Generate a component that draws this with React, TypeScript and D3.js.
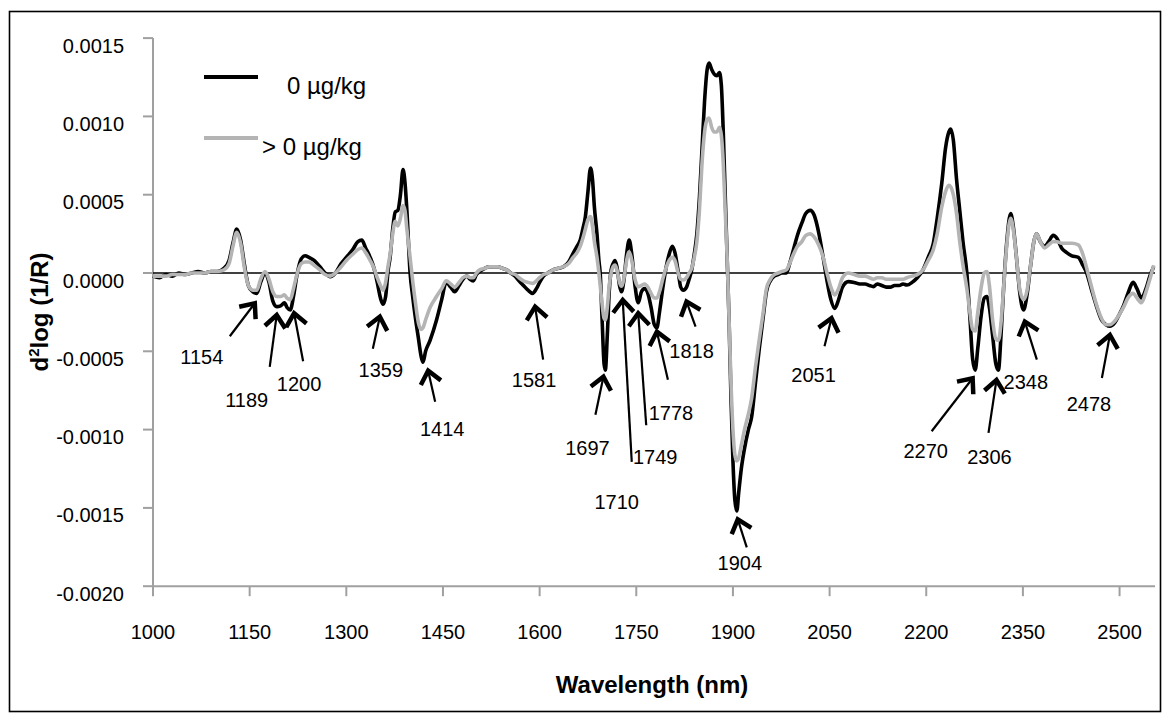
import React from 'react';
import * as d3 from 'd3';

const width = 1170;
const height = 722;
const plot = { left: 153, right: 1155, top: 38.1, bottom: 586.2 };
const font = '"Liberation Sans", Arial, sans-serif';

// wavelength (nm)
const wavelengths = [
  1000, 1010, 1020, 1030, 1040, 1050, 1060, 1070, 1080, 1090,
  1100, 1110, 1118, 1124, 1130, 1136, 1142, 1148, 1155, 1161,
  1167, 1174, 1180, 1186, 1192, 1198, 1204, 1208, 1213, 1218,
  1224, 1230, 1236, 1242, 1250, 1259, 1267, 1275, 1283, 1292,
  1300, 1310, 1318, 1324, 1330, 1337, 1343, 1348, 1353, 1357,
  1361, 1365, 1368, 1372, 1376, 1380, 1384, 1388, 1391, 1394,
  1399, 1403, 1407, 1412, 1416, 1419, 1423, 1430, 1440, 1448,
  1455, 1462, 1468, 1475, 1481, 1487, 1492, 1497, 1502, 1507,
  1515, 1522, 1528, 1535, 1542, 1549, 1555, 1562, 1568, 1575,
  1582, 1589, 1595, 1600, 1606, 1613, 1621, 1629, 1637, 1645,
  1652, 1658, 1663, 1667, 1671, 1675, 1679, 1682, 1685, 1689,
  1692, 1694, 1697, 1700, 1702, 1705, 1708, 1711, 1714, 1717,
  1720, 1724, 1727, 1731, 1735, 1739, 1743, 1748, 1753, 1758,
  1763, 1768, 1773, 1778, 1782, 1786, 1791, 1796, 1801, 1806,
  1810, 1815, 1819, 1823, 1828, 1832, 1836, 1840, 1844, 1848,
  1852, 1856, 1860, 1863, 1867, 1871, 1875, 1879, 1882, 1885,
  1888, 1891, 1894, 1897, 1900, 1903, 1906, 1909, 1913, 1918,
  1924, 1929, 1935, 1941, 1947, 1952, 1958, 1964, 1970, 1976,
  1983, 1988, 1994, 2000, 2007, 2013, 2020, 2026, 2033, 2040,
  2046, 2052, 2058, 2064, 2070, 2079, 2088, 2097, 2105, 2112,
  2118, 2124, 2131, 2138, 2144, 2151, 2158, 2164, 2170, 2178,
  2186, 2195, 2203, 2211, 2217, 2224, 2230, 2235, 2238, 2242,
  2247, 2252, 2257, 2263, 2268, 2272, 2276, 2280, 2285, 2290,
  2294, 2298, 2303, 2308, 2312, 2316, 2320, 2325, 2331, 2335,
  2340, 2345, 2351, 2356, 2362, 2367, 2371, 2377, 2384, 2390,
  2397, 2403, 2410, 2418, 2426, 2436, 2443, 2449, 2456, 2464,
  2472, 2479, 2485, 2492, 2499, 2506, 2513, 2521, 2527, 2534,
  2541, 2547, 2553,
];

// 0 µg/kg (black)
const clean = [
  -0.00002, -0.00003, -0.00001, -0.00002, 0, -0.00001, 0, 0.00001, 0, 0.00001,
  0.00001, 0.00003, 0.00008, 0.00019, 0.00028, 0.00021, 0.00005, -0.00008, -0.00012, -0.00013,
  -0.00006, 0, -0.00006, -0.00018, -0.000215, -0.00021, -0.00019, -0.00022, -0.000236, -0.00015,
  0, 0.00009, 0.00011, 0.0001, 0.00008, 0.00004, 0, -0.000024, 0, 0.00006,
  0.0001, 0.00015, 0.0002, 0.00021, 0.00016, 0.0001, 0.00003, -0.00006, -0.00016, -0.0002,
  -0.00015, 0.00002, 0.0001, 0.00028, 0.00039, 0.0004, 0.0005, 0.00066, 0.00058, 0.0004,
  0, -0.00015, -0.00028, -0.00042, -0.00053, -0.00057, -0.0005, -0.00043, -0.0003, -0.00017,
  -0.00006, -0.00009, -0.00012, -0.00008, -0.00004, -0.00002, -0.00004, -0.00005, -0.00001, 0.00001,
  0.00003, 0.00004, 0.00004, 0.00004, 0.00003, 0.00002, 0, -0.00002, -0.00005, -0.00008,
  -0.00011, -0.00013, -0.0001, -0.00006, -0.00002, 0, 0.00002, 0.00003, 0.00004, 0.00007,
  0.000126, 0.00017, 0.00021, 0.00028, 0.00036, 0.00052, 0.00067, 0.0006, 0.00042, 0.00025,
  0.00008, 0, -0.0003, -0.00058, -0.00062, -0.0004, -0.00012, 0.00002, 0.00006, 0.00008,
  0.00004, -0.00008, -0.00012, -0.00004, 0.00012, 0.00021, 0.00012, -0.00008, -0.00019, -0.00012,
  -0.0001, -0.00013, -0.00022, -0.00033, -0.00035, -0.00025, -0.0001, 0.00003, 0.00012, 0.00017,
  0.00013, 0.00001, -0.00009, -0.00011, -0.00009, -0.00004, 0.00002, 0.00012, 0.00025, 0.00048,
  0.00079, 0.0011, 0.0013, 0.00134, 0.0013, 0.00127, 0.00126, 0.00128, 0.0012, 0.0009,
  0.0005, 0.0001, -0.0003, -0.0008, -0.0012, -0.00145, -0.00152, -0.0014, -0.00125, -0.00112,
  -0.001, -0.00092, -0.0007, -0.00048, -0.00028, -0.00012, -0.00005, -0.00002, -0.00001, 0,
  0, 0.00006, 0.00015, 0.00024, 0.00032, 0.00038, 0.0004, 0.00037, 0.00026, 0.0001,
  -0.00005, -0.00017, -0.000226, -0.00017, -0.00009, -0.000055, -0.00006, -0.00007, -0.00007, -0.00008,
  -0.000087, -0.00007, -0.00008, -0.00009, -0.00009, -0.00008, -0.00008, -0.00007, -0.000077, -0.00006,
  -0.00003, 0.00002, 0.0001, 0.00019, 0.00035, 0.00057, 0.0008, 0.0009, 0.00092, 0.00085,
  0.0006, 0.0004, 0.0002, 0, -0.0003, -0.00055, -0.00062, -0.00048, -0.00028, -0.00016,
  -0.00015, -0.00022, -0.0004, -0.00058, -0.00062, -0.0004, -0.0001, 0.0002, 0.00038, 0.0003,
  0.0001, -0.00012, -0.000236, -0.00015, 0.00005, 0.0002, 0.00025, 0.0002, 0.00017, 0.0002,
  0.00024, 0.00022, 0.00016, 0.00013, 0.00011, 0.0001, 0.00005, 0, -0.0001, -0.00021,
  -0.0003, -0.00033, -0.00034, -0.00032, -0.00027, -0.00021, -0.00013, -0.00006, -0.0001, -0.00016,
  -0.0001, -0.00002, 0.00004,
];

// > 0 µg/kg (grey)
const contaminated = [
  -0.00002, -0.00002, -0.00002, -0.00001, -0.00001, -0.00001, 0, 0, 0, 0.00001,
  0.00001, 0.00002, 0.00006, 0.00017, 0.00026, 0.00019, 0.00003, -0.00008, -0.00011, -0.00011,
  -0.00004, 0.00001, -0.00004, -0.00012, -0.00015, -0.00015, -0.00014, -0.00016, -0.00017, -0.0001,
  0, 0.00006, 0.00007, 0.00007, 0.00005, 0.00002, -0.00001, -0.00002, 0, 0.00004,
  0.00008, 0.00012, 0.00015, 0.00016, 0.00013, 0.00008, 0.00003, -0.00003, -0.00008, -0.00011,
  -0.00006, 0.00005, 0.00012, 0.00025, 0.00033, 0.0003, 0.00035, 0.00043, 0.0004, 0.00028,
  0.0001, -0.00005, -0.00018, -0.00032, -0.00036, -0.00035, -0.0003, -0.00022, -0.00015, -0.0001,
  -0.00005, -0.00007, -0.00009, -0.00006, -0.00003, -0.00002, -0.00003, -0.00003, 0, 0.00002,
  0.00003, 0.00004, 0.00004, 0.00004, 0.00003, 0.00002, 0, -0.00001, -0.00003, -0.00005,
  -0.00006, -0.000066, -0.00005, -0.00003, -0.00001, 0, 0.00002, 0.00003, 0.00004, 0.00006,
  0.0001, 0.00013, 0.00017, 0.00022, 0.00028, 0.00034, 0.00036, 0.0003, 0.0002, 0.0001,
  0, -0.00008, -0.0002, -0.00029, -0.0003, -0.00022, -0.00008, 0, 0.00004, 0.00005,
  0.00002, -0.00006, -0.000085, -0.00003, 0.00008, 0.000136, 0.00008, -0.00004, -0.000087, -0.00008,
  -0.00007, -0.00009, -0.00013, -0.00016, -0.00016, -0.00012, -0.00004, 0.00003, 0.00008, 0.0001,
  0.00008, 0, -0.00004, -0.000045, -0.00003, 0, 0.00003, 0.0001, 0.0002, 0.0004,
  0.0007, 0.0009, 0.00098, 0.00099, 0.00093, 0.0009, 0.0009, 0.00093, 0.00088, 0.0007,
  0.0004, 0.0001, -0.0003, -0.0007, -0.001, -0.00116, -0.0012, -0.00118, -0.0011, -0.001,
  -0.0009, -0.0008, -0.0006, -0.00042, -0.00025, -0.0001, -0.00004, -0.00001, 0, 0.00001,
  0.00002, 0.00006, 0.00012, 0.00017, 0.0002, 0.00024, 0.00025, 0.00023, 0.00018, 0.0001,
  0, -0.00009, -0.00014, -0.0001, -0.00003, 0, -0.00001, -0.00002, -0.00002, -0.00003,
  -0.00004, -0.00003, -0.00003, -0.00004, -0.00004, -0.00004, -0.00004, -0.00004, -0.00003, -0.00002,
  -0.00001, 0.00002, 0.00008, 0.00015, 0.00025, 0.00042, 0.00052, 0.00056, 0.00055, 0.0005,
  0.00038, 0.0002, 0.00005, -0.0001, -0.00026, -0.00036, -0.00037, -0.00025, -0.0001, 0,
  0.00001, -0.00008, -0.0003, -0.00042, -0.00043, -0.00032, -0.0001, 0.00018, 0.00035, 0.00028,
  0.0001, -0.0001, -0.00017, -0.00012, 0.00005, 0.0002, 0.00025, 0.0002, 0.00016, 0.00018,
  0.0002, 0.0002, 0.00019, 0.00019, 0.00019, 0.00018, 0.00012, 0.00003, -0.00008, -0.0002,
  -0.00029, -0.00033, -0.00033, -0.00031, -0.00027, -0.00022, -0.00016, -0.00013, -0.00016, -0.00019,
  -0.00012, -0.00004, 0.00005,
];

const seriesNames = ['0 \u00b5g/kg', '> 0 \u00b5g/kg'];
const xTicks = [1000, 1150, 1300, 1450, 1600, 1750, 1900, 2050, 2200, 2350, 2500];
const yTicks = [-0.002, -0.0015, -0.001, -0.0005, 0, 0.0005, 0.001, 0.0015];

// band labels: where the arrow points (nm, value), then pixel offsets of tail and text
const bands = [
  { label: '1154', nm: 1158, v: -0.000193, tail: [-25, 33], text: [-53, 54] },
  { label: '1189', nm: 1192, v: -0.000268, tail: [-7, 52], text: [-30, 85] },
  { label: '1200', nm: 1219, v: -0.000257, tail: [9, 48], text: [5, 71] },
  { label: '1359', nm: 1352, v: -0.000279, tail: [-7, 32], text: [1, 53] },
  { label: '1414', nm: 1427, v: -0.000624, tail: [7, 31], text: [14, 58] },
  { label: '1581', nm: 1593, v: -0.000215, tail: [8, 53], text: [-1, 73] },
  { label: '1697', nm: 1699, v: -0.000662, tail: [-8, 38], text: [-16, 71] },
  { label: '1710', nm: 1729, v: -0.000172, tail: [9, 162], text: [-6, 202] },
  { label: '1749', nm: 1753, v: -0.000257, tail: [8, 112], text: [17, 144] },
  { label: '1778', nm: 1782, v: -0.000375, tail: [11, 48], text: [14, 81] },
  { label: '1818', nm: 1828, v: -0.000183, tail: [9, 25], text: [5, 49] },
  { label: '1904', nm: 1907.5, v: -0.001573, tail: [9, 28], text: [2, 44] },
  { label: '2051', nm: 2053, v: -0.000289, tail: [-7, 28], text: [-18, 57] },
  { label: '2270', nm: 2272, v: -0.000672, tail: [-41, 53], text: [-47, 73] },
  { label: '2306', nm: 2309, v: -0.000683, tail: [-8, 53], text: [-7, 77] },
  { label: '2348', nm: 2353, v: -0.000311, tail: [12, 38], text: [1, 60] },
  { label: '2478', nm: 2485, v: -0.000396, tail: [-8, 43], text: [-21, 69] },
];

const x = d3.scaleLinear().domain([1000, 2555]).range([plot.left, plot.right]);
const y = d3.scaleLinear().domain([-0.002, 0.0015]).range([plot.bottom, plot.top]);

const line = d3
  .line<number>()
  .x((d, i) => x(wavelengths[i]))
  .y(d => y(d))
  .curve(d3.curveMonotoneX);

// plain hyphen for negatives, as in the original
const fmt = (v: number) => d3.format('.4f')(v).replace('\u2212', '-');

function Arrow({ b }) {
  const tx = x(b.nm);
  const ty = y(b.v);
  const ex = tx + b.tail[0];
  const ey = ty + b.tail[1];
  const ang = Math.atan2(ey - ty, ex - tx);
  const len = 16;
  const spread = (40 * Math.PI) / 180;
  const a1 = [tx + len * Math.cos(ang + spread), ty + len * Math.sin(ang + spread)];
  const a2 = [tx + len * Math.cos(ang - spread), ty + len * Math.sin(ang - spread)];
  return (
    <g>
      <line x1={ex} y1={ey} x2={tx} y2={ty} stroke="#000" strokeWidth={2.2} />
      <path
        d={`M${a1[0]},${a1[1]}L${tx},${ty}L${a2[0]},${a2[1]}`}
        fill="none"
        stroke="#000"
        strokeWidth={4.5}
        strokeLinejoin="miter"
      />
      <text
        x={tx + b.text[0]}
        y={ty + b.text[1] + 7}
        textAnchor="middle"
        fontSize={20}
        fontFamily={font}
        fill="#000"
      >
        {b.label}
      </text>
    </g>
  );
}

export default function App() {
  const axisGrey = '#a0a0a0';
  return (
    <svg
      width={width}
      height={height}
      style={{ position: 'absolute', left: 0, top: 0, background: '#fff' }}
    >
      <rect x={9.5} y={11.5} width={1151} height={700} fill="#fff" stroke="#000" strokeWidth={1.6} />

      {/* axes */}
      <line x1={plot.left} x2={plot.left} y1={plot.top} y2={plot.bottom} stroke={axisGrey} strokeWidth={2} />
      <line x1={plot.left} x2={plot.right} y1={plot.bottom} y2={plot.bottom} stroke={axisGrey} strokeWidth={2} />
      {yTicks.map(t => (
        <g key={t}>
          <line x1={plot.left - 10} x2={plot.left} y1={y(t)} y2={y(t)} stroke={axisGrey} strokeWidth={2} />
          <text x={124} y={y(t) + 14.5} textAnchor="end" fontSize={20} fontFamily={font}>
            {fmt(t)}
          </text>
        </g>
      ))}
      {xTicks.map(t => (
        <g key={t}>
          <line x1={x(t)} x2={x(t)} y1={plot.bottom} y2={plot.bottom + 10} stroke={axisGrey} strokeWidth={2} />
          <text x={x(t)} y={639} textAnchor="middle" fontSize={20} fontFamily={font}>
            {t}
          </text>
        </g>
      ))}

      {/* zero line */}
      <line x1={plot.left} x2={plot.right} y1={y(0)} y2={y(0)} stroke="#000" strokeWidth={1.6} />

      {/* series */}
      <path d={line(clean) || ''} fill="none" stroke="#000" strokeWidth={3.6} strokeLinejoin="round" />
      <path d={line(contaminated) || ''} fill="none" stroke="#b4b4b4" strokeWidth={3.6} strokeLinejoin="round" />

      {bands.map(b => (
        <Arrow key={b.label} b={b} />
      ))}

      {/* legend */}
      <line x1={204} x2={258} y1={77} y2={77} stroke="#000" strokeWidth={4} />
      <text x={287} y={94} fontSize={24} fontFamily={font}>
        {seriesNames[0]}
      </text>
      <line x1={204} x2={258} y1={138} y2={138} stroke="#b4b4b4" strokeWidth={4} />
      <text x={262} y={155} fontSize={24} fontFamily={font}>
        {seriesNames[1]}
      </text>

      {/* axis titles */}
      <text x={652} y={693} textAnchor="middle" fontSize={24} fontWeight="bold" fontFamily={font}>
        Wavelength (nm)
      </text>
      <text
        transform="translate(48,312) rotate(-90)"
        textAnchor="middle"
        fontSize={24}
        fontWeight="bold"
        fontFamily={font}
      >
        d<tspan fontSize={15} dy={-9}>2</tspan>
        <tspan dy={9}>log (1/R)</tspan>
      </text>
    </svg>
  );
}
